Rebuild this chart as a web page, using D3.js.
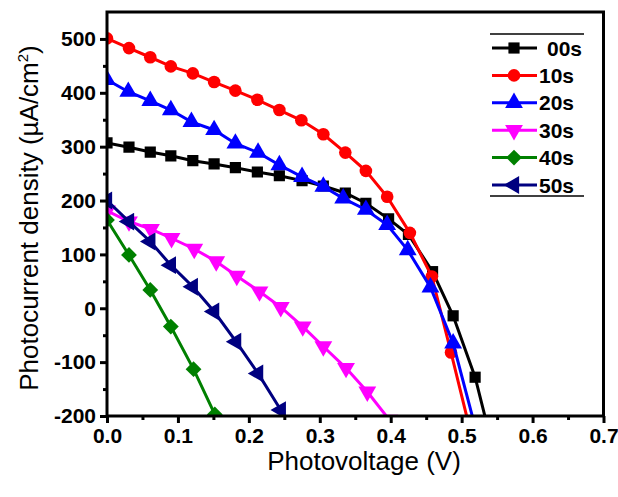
<!DOCTYPE html>
<html>
<head>
<meta charset="utf-8">
<script src="https://cdn.jsdelivr.net/npm/d3@7"></script>
<style>
  body { margin: 0; background: #fff; }
  svg { font-family: "Liberation Sans", Arial, sans-serif; }
</style>
</head>
<body>
<div id="chart"></div>
<script>
// data (V, uA/cm2)
const s00 = [[0,307],[0.031,299],[0.061,290],[0.090,283],[0.121,274],[0.151,268],[0.181,261],[0.212,253],[0.243,246],[0.275,237],[0.305,227],[0.336,214],[0.365,195],[0.397,166],[0.425,137],[0.459,68],[0.488,-14],[0.519,-128],[0.549,-285]];
const s10 = [[0,501],[0.031,483],[0.061,466],[0.090,449],[0.121,436],[0.151,420],[0.181,404],[0.212,387],[0.243,368],[0.274,349],[0.305,323],[0.336,289],[0.365,255],[0.395,207],[0.427,140],[0.458,59],[0.485,-82],[0.516,-248]];
const s20 = [[0,424],[0.030,402],[0.061,385],[0.090,368],[0.119,346],[0.151,331],[0.181,306],[0.213,289],[0.243,266],[0.275,244],[0.305,226],[0.333,204],[0.365,183],[0.395,155],[0.424,108],[0.456,39],[0.488,-65],[0.519,-220]];
const s30 = [[0,181],[0.031,161],[0.062,147],[0.091,130],[0.123,110],[0.154,87],[0.183,60],[0.215,31],[0.245,2],[0.276,-34],[0.305,-71],[0.337,-111],[0.367,-155],[0.398,-207]];
const s40 = [[0,164],[0.031,99],[0.061,34],[0.090,-34],[0.122,-113],[0.152,-197]];
const s50 = [[0,200],[0.031,161],[0.061,124],[0.090,80],[0.121,40],[0.151,-6],[0.182,-62],[0.213,-121],[0.245,-189],[0.276,-257]];

const seriesNames = ["00s","10s","20s","30s","40s","50s"];
const seriesData = [s00, s10, s20, s30, s40, s50];
const seriesColors = ["#000000","#ff0000","#0000ff","#ff00ff","#008000","#000080"];
const seriesSymbols = ["square","circle","up","down","diamond","left"];

const xTicks = [0,0.1,0.2,0.3,0.4,0.5,0.6,0.7];
const xMinor = [0.05,0.15,0.25,0.35,0.45,0.55,0.65];
const yTicks = [-200,-100,0,100,200,300,400,500];
const yMinor = [-150,-50,50,150,250,350,450];

const W = 618, H = 497;
const margin = {left: 107, right: 603.5, top: 12, bottom: 416};

const svg = d3.select("#chart").append("svg")
  .attr("width", W).attr("height", H);

const x = d3.scaleLinear().domain([0, 0.7]).range([margin.left, margin.right]);
const y = d3.scaleLinear().domain([-200, 550]).range([margin.bottom, margin.top]);

svg.append("clipPath").attr("id", "clip")
  .append("rect").attr("x", margin.left).attr("y", margin.top)
  .attr("width", margin.right - margin.left).attr("height", margin.bottom - margin.top);

function symbolPath(kind, size) {
  if (kind == "square") return d3.symbol(d3.symbolSquare, size)();
  if (kind == "circle") return d3.symbol(d3.symbolCircle, size)();
  if (kind == "diamond") return d3.symbol(d3.symbolSquare, size)();
  return d3.symbol(d3.symbolTriangle, size * 1.1)();
}
function symbolRot(kind) {
  if (kind == "down") return 180;
  if (kind == "left") return -90;
  if (kind == "diamond") return 45;
  return 0;
}

const line = d3.line().x(d => x(d[0])).y(d => y(d[1]));

const plot = svg.append("g").attr("clip-path", "url(#clip)");

seriesData.forEach((data, i) => {
  plot.append("path")
    .datum(data)
    .attr("d", line)
    .attr("fill", "none")
    .attr("stroke", seriesColors[i])
    .attr("stroke-width", 3);

  plot.selectAll(".m" + i)
    .data(data)
    .enter()
    .append("path")
    .attr("class", "m" + i)
    .attr("d", symbolPath(seriesSymbols[i], 125))
    .attr("transform", d => "translate(" + x(d[0]) + "," + y(d[1]) + ") rotate(" + symbolRot(seriesSymbols[i]) + ")")
    .attr("fill", seriesColors[i]);
});

// frame
svg.append("rect")
  .attr("x", margin.left).attr("y", margin.top)
  .attr("width", margin.right - margin.left).attr("height", margin.bottom - margin.top)
  .attr("fill", "none").attr("stroke", "#000").attr("stroke-width", 3);

// x axis
const xAxis = d3.axisBottom(x).tickValues(xTicks).tickFormat(d3.format(".1f"))
  .tickSize(7).tickPadding(5);
const gx = svg.append("g").attr("transform", "translate(0," + margin.bottom + ")").call(xAxis);
gx.select(".domain").remove();
gx.selectAll(".tick line").attr("stroke-width", 3);
gx.selectAll("text").style("font-size", "21px").style("font-weight", "bold").attr("fill", "#000");

const xAxisMinor = d3.axisBottom(x).tickValues(xMinor).tickFormat("").tickSize(4);
const gxm = svg.append("g").attr("transform", "translate(0," + margin.bottom + ")").call(xAxisMinor);
gxm.select(".domain").remove();
gxm.selectAll(".tick line").attr("stroke-width", 3);

// y axis, plain hyphen for negatives like the original
const yAxis = d3.axisLeft(y).tickValues(yTicks).tickFormat(d => String(d))
  .tickSize(7).tickPadding(4);
const gy = svg.append("g").attr("transform", "translate(" + margin.left + ",0)").call(yAxis);
gy.select(".domain").remove();
gy.selectAll(".tick line").attr("stroke-width", 3);
gy.selectAll("text").style("font-size", "21px").style("font-weight", "bold").attr("fill", "#000");

const yAxisMinor = d3.axisLeft(y).tickValues(yMinor).tickFormat("").tickSize(4);
const gym = svg.append("g").attr("transform", "translate(" + margin.left + ",0)").call(yAxisMinor);
gym.select(".domain").remove();
gym.selectAll(".tick line").attr("stroke-width", 3);

// axis titles
svg.append("text")
  .attr("x", 364).attr("y", 470)
  .attr("text-anchor", "middle")
  .style("font-size", "26px")
  .text("Photovoltage (V)");

const yt = svg.append("text")
  .attr("transform", "translate(38," + 218 + ") rotate(-90)")
  .attr("text-anchor", "middle")
  .style("font-size", "26px");
yt.append("tspan").text("Photocurrent density (\u00b5A/cm");
yt.append("tspan").attr("dy", -10).style("font-size", "15px").text("2");
yt.append("tspan").attr("dy", 10).text(")");

// legend
const lg = svg.append("g");
lg.append("line").attr("x1", 490).attr("x2", 584).attr("y1", 34).attr("y2", 34)
  .attr("stroke", "#000").attr("stroke-width", 1.5);
lg.append("line").attr("x1", 490).attr("x2", 584).attr("y1", 196).attr("y2", 196)
  .attr("stroke", "#000").attr("stroke-width", 1.5);

seriesNames.forEach((name, i) => {
  const cy = 48 + i * 27.4;
  lg.append("line").attr("x1", 492).attr("x2", 537).attr("y1", cy).attr("y2", cy)
    .attr("stroke", seriesColors[i]).attr("stroke-width", 3);
  lg.append("path")
    .attr("d", symbolPath(seriesSymbols[i], 125))
    .attr("transform", "translate(514," + cy + ") rotate(" + symbolRot(seriesSymbols[i]) + ")")
    .attr("fill", seriesColors[i]);
  lg.append("text")
    .attr("x", i == 0 ? 547 : 539).attr("y", cy + 7.5)
    .style("font-size", "21px").style("font-weight", "bold")
    .text(name);
});
</script>
</body>
</html>
